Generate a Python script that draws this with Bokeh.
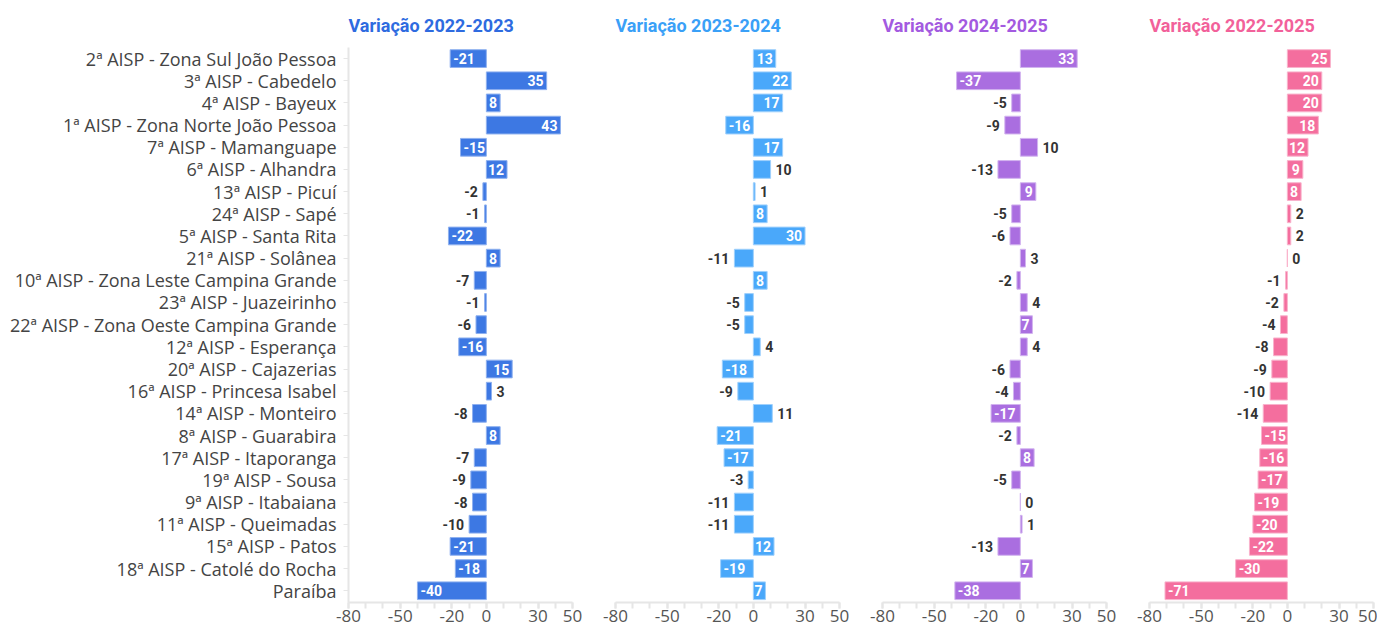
from bokeh.plotting import figure
from bokeh.models import Range1d, FixedTicker, ColumnDataSource
from bokeh.layouts import row
from bokeh.core.properties import value
from bokeh.embed import file_html
from bokeh.resources import INLINE

categories = [
    "2ª AISP - Zona Sul João Pessoa",
    "3ª AISP - Cabedelo",
    "4ª AISP - Bayeux",
    "1ª AISP - Zona Norte João Pessoa",
    "7ª AISP - Mamanguape",
    "6ª AISP - Alhandra",
    "13ª AISP - Picuí",
    "24ª AISP - Sapé",
    "5ª AISP - Santa Rita",
    "21ª AISP - Solânea",
    "10ª AISP - Zona Leste Campina Grande",
    "23ª AISP - Juazeirinho",
    "22ª AISP - Zona Oeste Campina Grande",
    "12ª AISP - Esperança",
    "20ª AISP - Cajazerias",
    "16ª AISP - Princesa Isabel",
    "14ª AISP - Monteiro",
    "8ª AISP - Guarabira",
    "17ª AISP - Itaporanga",
    "19ª AISP - Sousa",
    "9ª AISP - Itabaiana",
    "11ª AISP - Queimadas",
    "15ª AISP - Patos",
    "18ª AISP - Catolé do Rocha",
    "Paraíba",
]

var_2022_2023 = [-21, 35, 8, 43, -15, 12, -2, -1, -22, 8, -7, -1, -6, -16, 15, 3, -8, 8, -7, -9, -8, -10, -21, -18, -40]
var_2023_2024 = [13, 22, 17, -16, 17, 10, 1, 8, 30, -11, 8, -5, -5, 4, -18, -9, 11, -21, -17, -3, -11, -11, 12, -19, 7]
var_2024_2025 = [33, -37, -5, -9, 10, -13, 9, -5, -6, 3, -2, 4, 7, 4, -6, -4, -17, -2, 8, -5, 0, 1, -13, 7, -38]
var_2022_2025 = [25, 20, 20, 18, 12, 9, 8, 2, 2, 0, -1, -2, -4, -8, -9, -10, -14, -15, -16, -17, -19, -20, -22, -30, -71]

titles = ["Variação 2022-2023", "Variação 2023-2024", "Variação 2024-2025", "Variação 2022-2025"]
series = [var_2022_2023, var_2023_2024, var_2024_2025, var_2022_2025]
bar_colors = ["#3d78e3", "#4aa8fa", "#aa6ee0", "#f46e9e"]
edge_colors = ["#8fb1ef", "#9fd0fc", "#d2b4ef", "#f9b3cc"]
title_colors = ["#2e6be0", "#3aa0f7", "#a35ae0", "#f2619a"]

x_ticks = [-80, -50, -20, 0, 30, 50]
x_tick_labels = ["-80", "-50", "-20", "0", "30", "50"]
minor = list(range(-80, 51, 10))

n = len(categories)
ypos = [n - 1 - i for i in range(n)]

LABEL_FONT = "Roboto"
AXIS_FONT = "Open Sans"

# minimum |value| for a label to fit inside the bar, by label length
fit = {1: 5, 2: 12, 3: 15, 4: 20}

FW = 224
FH = 555
figs = []
for k in range(4):
    first = k == 0
    last = k == 3
    p = figure(
        frame_width=FW, frame_height=FH,
        x_range=Range1d(-80, 50), y_range=Range1d(-0.53, n - 0.5),
        output_backend="svg", toolbar_location=None,
        min_border_left=348 if first else 23,
        min_border_right=4 if last else 20,
        min_border_top=47, min_border_bottom=24,
        outline_line_color=None,
    )
    p.title.text = titles[k]
    p.title.align = "left"
    p.title.text_color = title_colors[k]
    p.title.text_font = LABEL_FONT
    p.title.text_font_style = "bold"
    p.title.text_font_size = "18px"
    p.title.standoff = 24
    p.xgrid.grid_line_color = None
    p.ygrid.grid_line_color = None

    vals = series[k]
    src = ColumnDataSource(dict(y=ypos, v=vals))
    p.hbar(y="y", left=0, right="v", height=0.8, source=src,
           fill_color=bar_colors[k], line_color=edge_colors[k], line_width=1)

    groups = {"in_pos": ([], [], []), "in_neg": ([], [], []), "out_pos": ([], [], []), "out_neg": ([], [], [])}
    for y, v in zip(ypos, vals):
        s = str(v)
        inside = abs(v) >= fit[len(s)] and v != 0
        key = ("in_" if inside else "out_") + ("neg" if v < 0 else "pos")
        groups[key][0].append(v)
        groups[key][1].append(y)
        groups[key][2].append(s)
    spec = {
        "in_pos": ("right", -3, "white"),
        "in_neg": ("left", 3, "white"),
        "out_pos": ("left", 5, "#333333"),
        "out_neg": ("right", -5, "#333333"),
    }
    for key, (xs, ys, ts) in groups.items():
        if not xs:
            continue
        align, off, col = spec[key]
        p.text(x=xs, y=ys, text=ts, text_align=align, text_baseline="middle",
               x_offset=off, text_color=col, text_font=value(LABEL_FONT),
               text_font_style="bold", text_font_size="14px")

    xa = p.xaxis[0]
    xa.ticker = FixedTicker(ticks=x_ticks, minor_ticks=minor)
    xa.major_label_overrides = {t: s for t, s in zip(x_ticks, x_tick_labels)}
    xa.axis_line_color = "#e6e6e6"
    xa.axis_line_width = 2
    xa.major_tick_line_color = "#e6e6e6"
    xa.minor_tick_line_color = "#e6e6e6"
    xa.major_tick_line_width = 2
    xa.minor_tick_line_width = 2
    xa.major_tick_out = 6
    xa.minor_tick_out = 6
    xa.major_tick_in = 0
    xa.minor_tick_in = 0
    xa.major_label_text_font = AXIS_FONT
    xa.major_label_text_font_size = "17px"
    xa.major_label_text_color = "#555555"
    xa.major_label_standoff = 1

    ya = p.yaxis[0]
    if first:
        ya.ticker = FixedTicker(ticks=ypos, minor_ticks=[])
        ya.major_label_overrides = {y: c for y, c in zip(ypos, categories)}
        ya.axis_line_color = "#e6e6e6"
        ya.axis_line_width = 2
        ya.major_tick_line_color = "#e6e6e6"
        ya.major_tick_out = 5
        ya.major_tick_in = 0
        ya.minor_tick_line_color = None
        ya.major_label_text_font = AXIS_FONT
        ya.major_label_text_font_size = "18px"
        ya.major_label_text_color = "#444444"
        ya.major_label_standoff = 7
    else:
        ya.visible = False
    figs.append(p)

layout = row(*figs, spacing=0)
open("out.html", "w").write(file_html(layout, INLINE))
